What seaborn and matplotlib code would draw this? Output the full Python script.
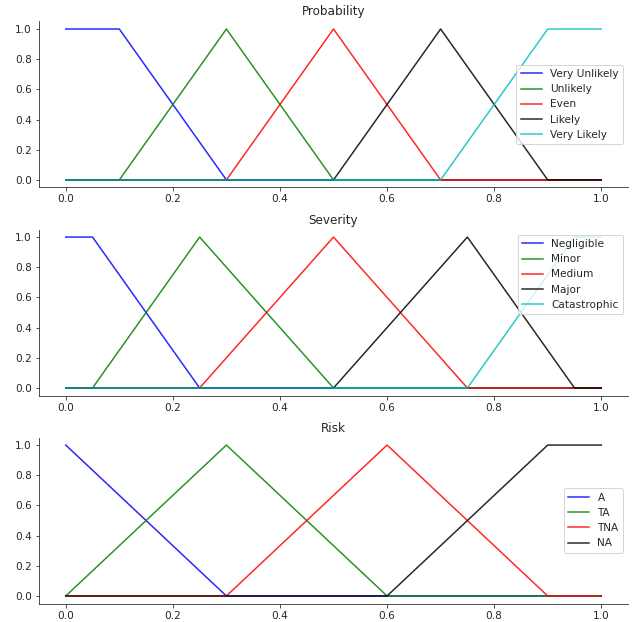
import seaborn as sns
import matplotlib
matplotlib.use("Agg")
import matplotlib.pyplot as plt

# breakpoints of each membership function
prob_names = ["Very Unlikely", "Unlikely", "Even", "Likely", "Very Likely"]
prob_x = [[0, 0.1, 0.3, 1.0],
          [0, 0.1, 0.3, 0.5, 1.0],
          [0, 0.3, 0.5, 0.7, 1.0],
          [0, 0.5, 0.7, 0.9, 1.0],
          [0, 0.7, 0.9, 1.0]]
prob_y = [[1, 1, 0, 0],
          [0, 0, 1, 0, 0],
          [0, 0, 1, 0, 0],
          [0, 0, 1, 0, 0],
          [0, 0, 1, 1]]

sev_names = ["Negligible", "Minor", "Medium", "Major", "Catastrophic"]
sev_x = [[0, 0.05, 0.25, 1.0],
         [0, 0.05, 0.25, 0.5, 1.0],
         [0, 0.25, 0.5, 0.75, 1.0],
         [0, 0.5, 0.75, 0.95, 1.0],
         [0, 0.75, 0.95, 1.0]]
sev_y = [[1, 1, 0, 0],
         [0, 0, 1, 0, 0],
         [0, 0, 1, 0, 0],
         [0, 0, 1, 0, 0],
         [0, 0, 1, 1]]

risk_names = ["A", "TA", "TNA", "NA"]
risk_x = [[0, 0.3, 1.0],
          [0, 0.3, 0.6, 1.0],
          [0, 0.3, 0.6, 0.9, 1.0],
          [0, 0.6, 0.9, 1.0]]
risk_y = [[1, 0, 0],
          [0, 1, 0, 0],
          [0, 0, 1, 0, 0],
          [0, 0, 1, 1]]

colors = ["b", "g", "r", "k", "c"]

fig = plt.figure(figsize=(641 / 72, 622 / 72), dpi=72)
ax0 = fig.add_axes([0.0608, 0.6986, 0.919, 0.2669])
ax1 = fig.add_axes([0.0608, 0.3641, 0.919, 0.2669])
ax2 = fig.add_axes([0.0608, 0.0297, 0.919, 0.2669])

panels = [(ax0, "Probability", prob_names, prob_x, prob_y, "center right"),
          (ax1, "Severity", sev_names, sev_x, sev_y, "upper right"),
          (ax2, "Risk", risk_names, risk_x, risk_y, "center right")]

for ax, title, names, xs, ys, loc in panels:
    for name, x, y, c in zip(names, xs, ys, colors):
        sns.lineplot(x=x, y=y, color=c, linewidth=1.5, alpha=0.85, label=name, ax=ax)
    ax.set_title(title, fontsize=12, color="#262626")
    ax.legend(loc=loc, fontsize=10.5, labelcolor="#262626")
    ax.set_xticks([0, 0.2, 0.4, 0.6, 0.8, 1.0])
    ax.set_yticks([0, 0.2, 0.4, 0.6, 0.8, 1.0])
    ax.tick_params(labelsize=10.5, labelcolor="#262626", color="#262626")
    for s in ax.spines.values():
        s.set_color("#262626")
    sns.despine(ax=ax)

fig.savefig("out.png", dpi=72)
